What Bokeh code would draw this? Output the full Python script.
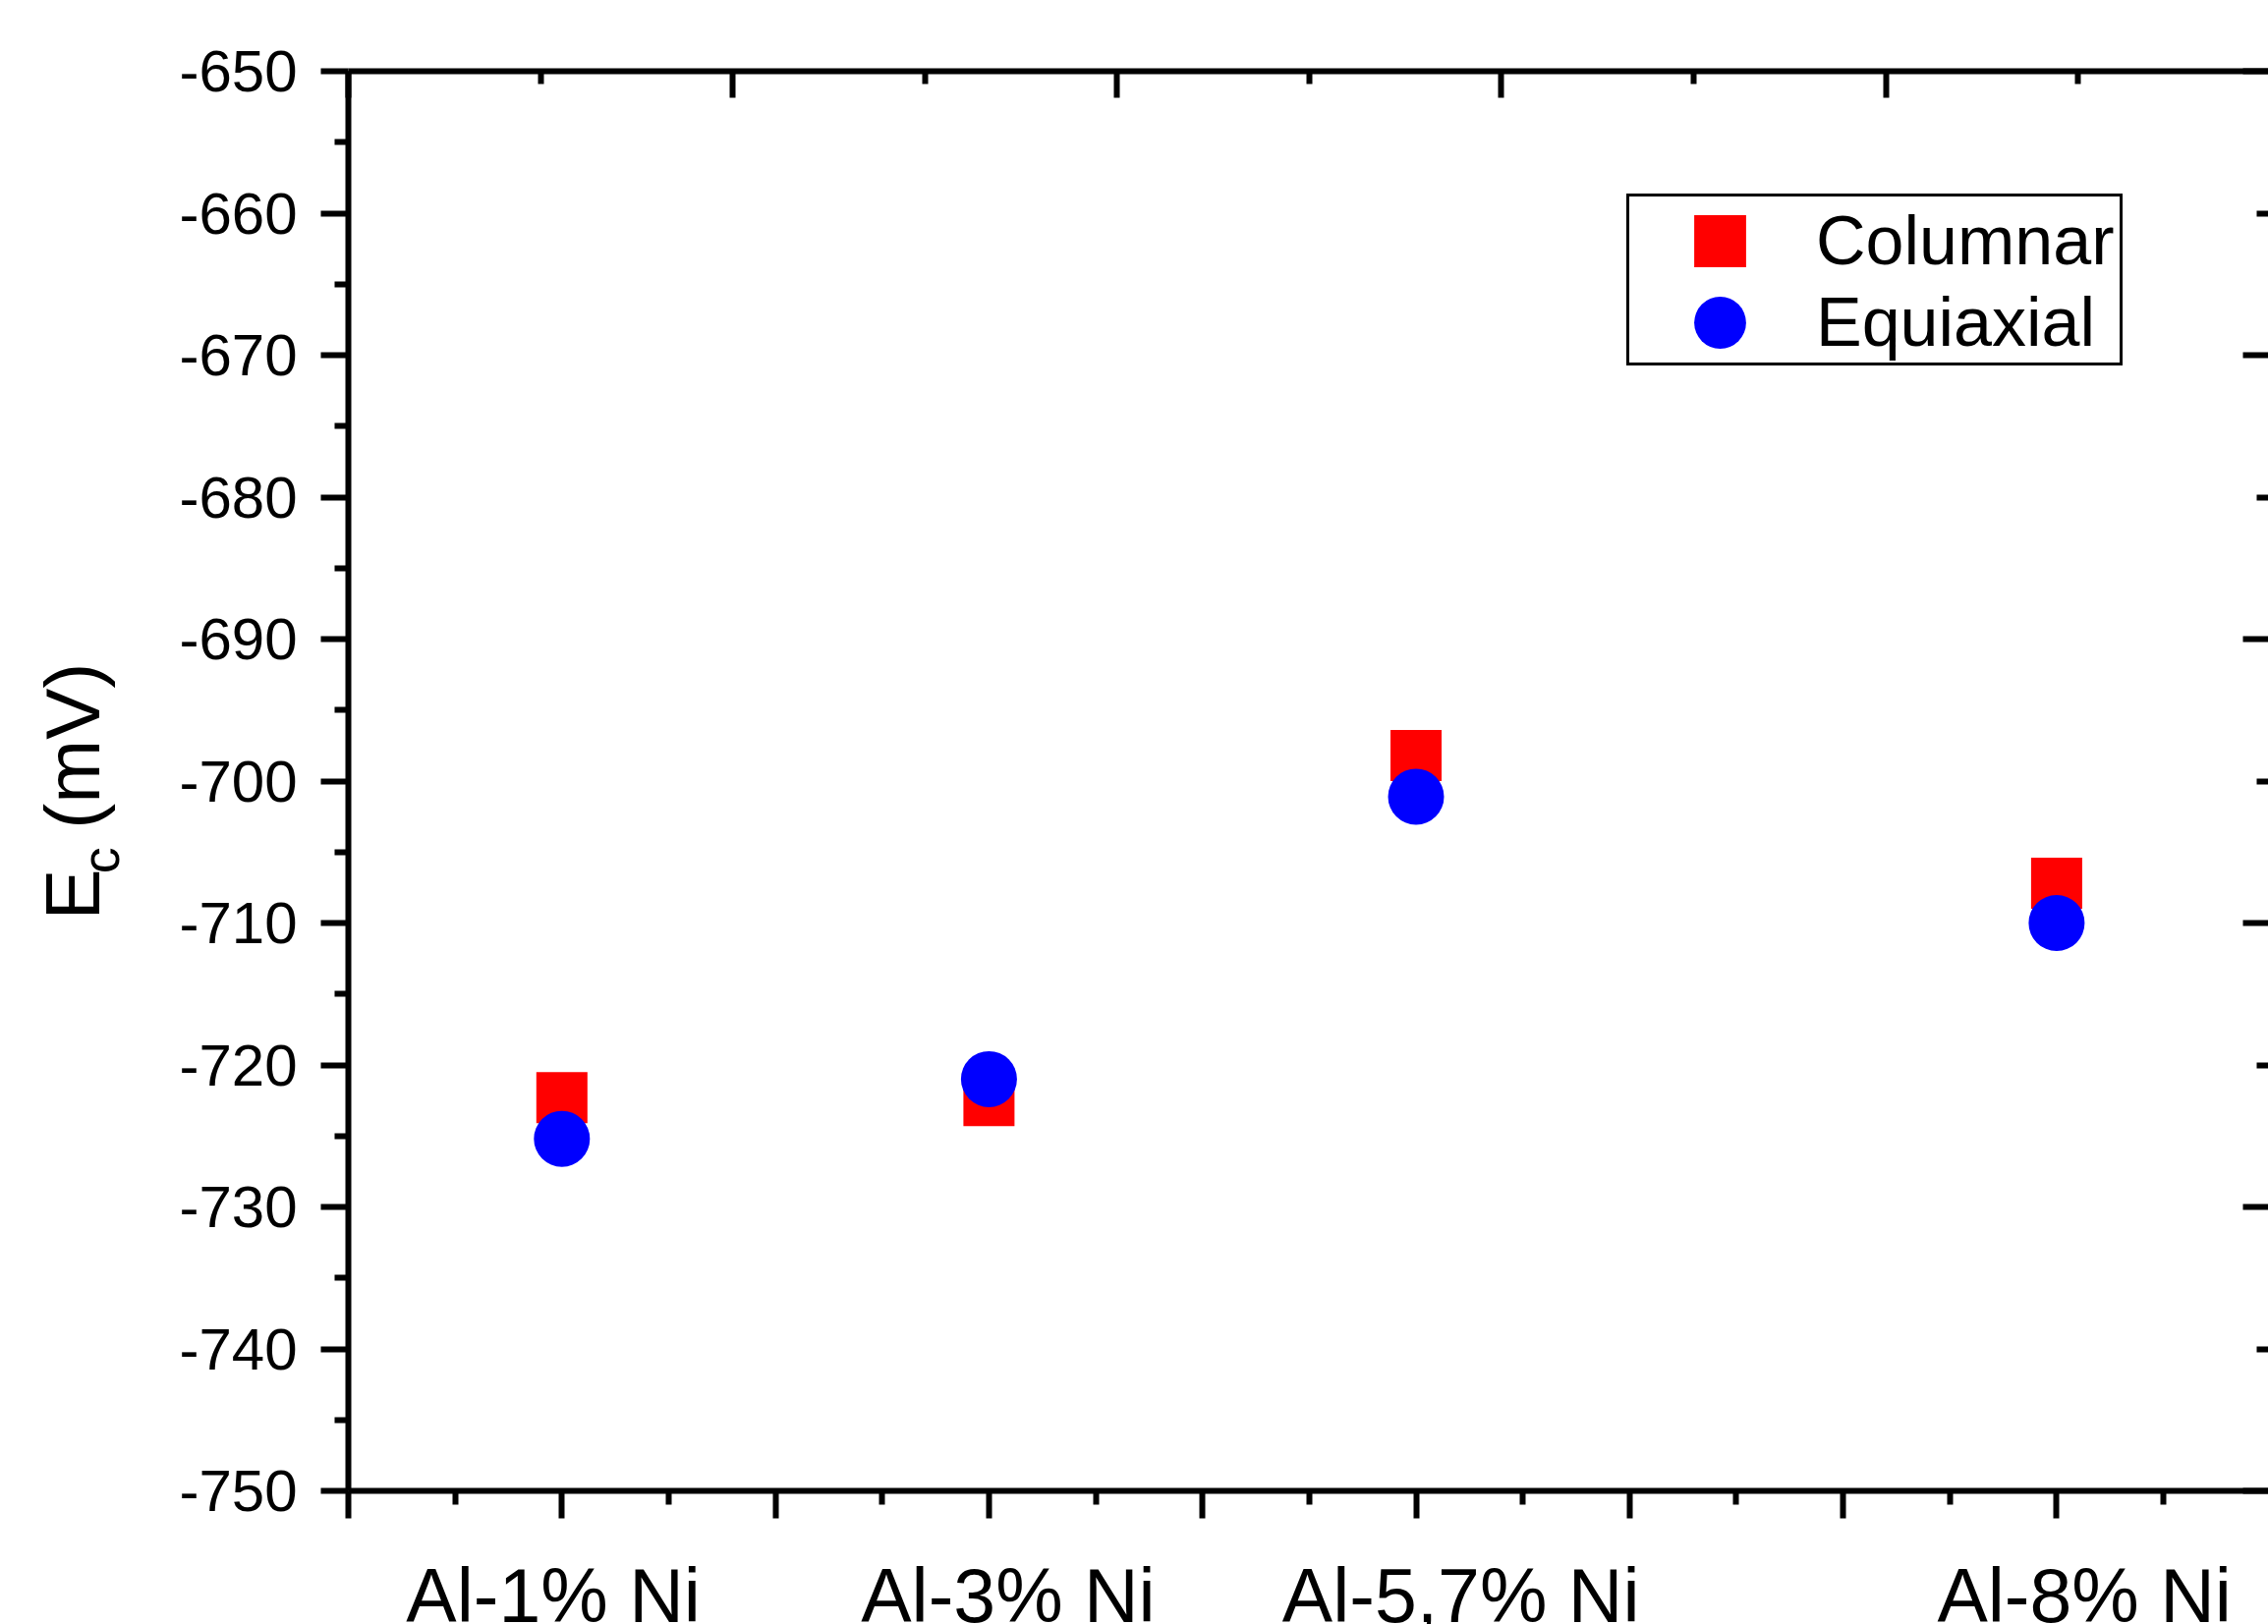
import numpy as np
from bokeh.plotting import figure
from bokeh.layouts import row, column
from bokeh.models import Range1d, FixedTicker, LinearAxis, Legend, LegendItem
from bokeh.core.properties import value
from bokeh.embed import file_html
from bokeh.resources import INLINE

# ---------------- data ----------------
categories = ["Al-1% Ni", "Al-3% Ni", "Al-5,7% Ni", "Al-8% Ni"]
x_pos = [1, 3, 5, 8]                    # where the points sit on the numeric x axis
label_pos = [0.96, 3.09, 5.21, 8.13]    # centres of the category texts
columnar = [-722.3, -722.5, -698.2, -707.2]
equiaxial = [-725.2, -721.0, -701.1, -710.0]
y_ticks = [-750, -740, -730, -720, -710, -700, -690, -680, -670, -660, -650]
x_ticks = [0, 1, 2, 3, 4, 5, 6, 7, 8, 9]
top_ticks = [0, 1.8, 3.6, 5.4, 7.2, 9]
right_ticks = [-750, -730, -710, -690, -670, -650]
y_title = ["E", "c", "(mV)"]

# ---------------- layout constants (page pixels) ----------------
PAGE_W, PAGE_H = 2308, 1653
FRAME_L, FRAME_T, FRAME_B = 354, 72, 1517
TITLE_W = 130                     # strip on the left that holds the y title
MAIN_H = FRAME_B + 40             # main plot height (frame + bottom ticks)
PX_PER_UNIT = 217.3
X_END = (PAGE_W - FRAME_L) / PX_PER_UNIT
Y0, Y1 = -750, -650
FONT = "Liberation Sans"

x_range = Range1d(0, X_END)

p = figure(width=PAGE_W - TITLE_W, height=MAIN_H, output_backend="svg",
           toolbar_location=None,
           x_range=x_range, y_range=Range1d(Y0, Y1),
           min_border_left=FRAME_L - TITLE_W, min_border_top=FRAME_T,
           min_border_bottom=MAIN_H - FRAME_B, min_border_right=0,
           background_fill_color="white", border_fill_color="white")
p.outline_line_color = None
p.grid.visible = False


def style_axis(ax, tick_in, tick_out, minor_in, minor_out, show_line=True):
    ax.axis_line_width = 6
    ax.axis_line_color = "black" if show_line else None
    ax.major_tick_line_width = 6
    ax.minor_tick_line_width = 6
    ax.major_tick_line_color = "black"
    ax.minor_tick_line_color = "black"
    ax.major_tick_in = tick_in
    ax.major_tick_out = tick_out
    ax.minor_tick_in = minor_in
    ax.minor_tick_out = minor_out


def hide_labels(ax, ticks):
    ax.major_label_overrides = {float(t): "" for t in ticks}
    ax.major_label_text_font_size = "0px"
    ax.major_label_standoff = 0


# bottom axis (ticks only)
xb = p.xaxis[0]
xb.ticker = FixedTicker(ticks=x_ticks,
                        minor_ticks=list(np.array(x_ticks[:-1]) + 0.5))
style_axis(xb, 0, 28, 0, 14)
hide_labels(xb, x_ticks)

# left axis, labels written with a plain hyphen as in the original
yl = p.yaxis[0]
yl.ticker = FixedTicker(ticks=y_ticks,
                        minor_ticks=list(np.array(y_ticks[:-1]) + 5))
style_axis(yl, 0, 28, 0, 14)
yl.major_label_overrides = {float(t): str(t) for t in y_ticks}
yl.major_label_text_font = FONT
yl.major_label_text_font_size = "60px"
yl.major_label_text_color = "black"
yl.major_label_standoff = 24

# top mirror axis
top_minor = list((np.array(top_ticks[:-1]) + np.array(top_ticks[1:])) / 2)
xt = LinearAxis(ticker=FixedTicker(ticks=top_ticks, minor_ticks=top_minor))
style_axis(xt, 27, 0, 13, 0)
hide_labels(xt, top_ticks)
p.add_layout(xt, "above")

# right mirror axis (its spine lies just outside the picture)
right_minor = list((np.array(right_ticks[:-1]) + np.array(right_ticks[1:])) / 2)
yr = LinearAxis(ticker=FixedTicker(ticks=right_ticks, minor_ticks=right_minor))
style_axis(yr, 26, 0, 12, 0, show_line=False)
hide_labels(yr, right_ticks)
p.add_layout(yr, "right")

# ---------------- data marks ----------------
r_col = p.rect(x=x_pos, y=columnar, width=52, height=52,
               width_units="screen", height_units="screen",
               fill_color="#FF0000", line_color=None)
r_equ = p.ellipse(x=x_pos, y=equiaxial, width=57, height=57,
                  width_units="screen", height_units="screen",
                  fill_color="#0000FF", line_color=None)

# ---------------- legend ----------------
legend = Legend(items=[LegendItem(label="Columnar", renderers=[r_col]),
                       LegendItem(label="Equiaxial", renderers=[r_equ])],
                location=(1301, 1145),
                padding=(59, 6, 5, 1), spacing=3, margin=0,
                glyph_width=66, glyph_height=66,
                label_standoff=65,
                label_text_font=FONT, label_text_font_size="70px",
                label_text_color="black",
                border_line_color="black", border_line_width=3,
                border_line_alpha=1.0,
                background_fill_color="white", background_fill_alpha=1.0)
p.add_layout(legend)

# ---------------- y title strip:  E_c (mV) ----------------
yt = figure(width=TITLE_W, height=MAIN_H, output_backend="svg",
            toolbar_location=None, x_axis_location=None, y_axis_location=None,
            x_range=Range1d(0, TITLE_W), y_range=Range1d(MAIN_H, 0),
            min_border=0, background_fill_color="white",
            border_fill_color="white")
yt.outline_line_color = None
yt.grid.visible = False
yt.text(x=[73, 101, 73], y=[931, 880, 831], text=y_title, angle=np.pi / 2,
        text_align="left", text_baseline="alphabetic",
        text_font=value(FONT), text_font_size=["78px", "54px", "78px"],
        text_color="black")

# ---------------- category label strip under the x axis ----------------
XL_H = PAGE_H - MAIN_H
xl = figure(width=PAGE_W, height=XL_H, output_backend="svg",
            toolbar_location=None, x_axis_location=None, y_axis_location=None,
            x_range=x_range, y_range=Range1d(XL_H, 0),
            min_border_left=FRAME_L, min_border_right=0,
            min_border_top=0, min_border_bottom=0,
            background_fill_color="white", border_fill_color="white")
xl.outline_line_color = None
xl.grid.visible = False
xl.text(x=label_pos, y=[XL_H - 30] * len(label_pos), text=categories,
        text_align="center", text_baseline="alphabetic",
        text_font=value(FONT), text_font_size=value("77px"), text_color="black")

layout = column(row(yt, p, spacing=0), xl, spacing=0)
open("out.html", "w").write(file_html(layout, INLINE))
